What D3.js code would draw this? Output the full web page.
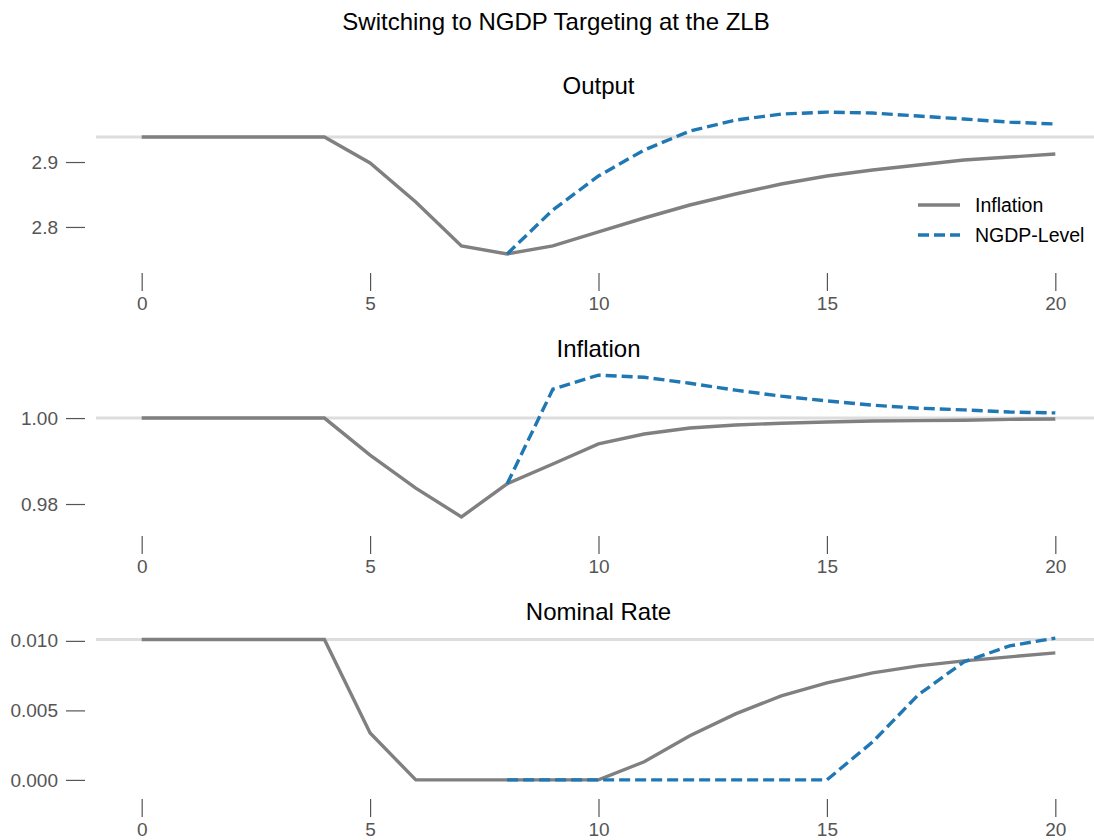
<!DOCTYPE html>
<html>
<head>
<meta charset="utf-8">
<script src="https://cdn.jsdelivr.net/npm/d3@7"></script>
<style>
  body { margin: 0; background: #fff; }
  text { font-family: "Liberation Sans", Arial, Helvetica, sans-serif; }
</style>
</head>
<body>
<div id="chart-area"></div>
<script>
// periods after the shock
var periods = [0, 1, 2, 3, 4, 5, 6, 7, 8, 9, 10, 11, 12, 13, 14, 15, 16, 17, 18, 19, 20]
var xTicks = [0, 5, 10, 15, 20]

// Output
var outputInflation = [2.9385, 2.9385, 2.9385, 2.9385, 2.9385, 2.8985, 2.8385, 2.7708, 2.7585, 2.7708,
  2.7923, 2.8138, 2.8338, 2.8508, 2.8662, 2.8785, 2.8877, 2.8954, 2.9031, 2.9077, 2.9123]
var outputNgdp = [null, null, null, null, null, null, null, null, 2.7585, 2.8262,
  2.8785, 2.9185, 2.9477, 2.9646, 2.9738, 2.9769, 2.9754, 2.9708, 2.9662, 2.9615, 2.9585]
var outputSteady = 2.9385
var outputTicks = [2.8, 2.9]

// Inflation
var inflInflation = [1.0, 1.0, 1.0, 1.0, 1.0, 0.9914, 0.9837, 0.9770, 0.9847, 0.9893,
  0.9940, 0.9963, 0.9977, 0.9984, 0.9988, 0.9991, 0.9993, 0.9994, 0.9995, 0.9997, 0.9998]
var inflNgdp = [null, null, null, null, null, null, null, null, 0.9847, 1.0067,
  1.0100, 1.0095, 1.0081, 1.0065, 1.0051, 1.0040, 1.0030, 1.0023, 1.0019, 1.0014, 1.0012]
var inflSteady = 1.0
var inflTicks = [0.98, 1.00]

// Nominal rate
var rateInflation = [0.0101, 0.0101, 0.0101, 0.0101, 0.0101, 0.00338, 0, 0, 0, 0,
  0, 0.0013, 0.00317, 0.00475, 0.00604, 0.00698, 0.0077, 0.0082, 0.00856, 0.00885, 0.00914]
var rateNgdp = [null, null, null, null, null, null, null, null, 0, 0,
  0, 0, 0, 0, 0, 0, 0.00273, 0.00612, 0.00849, 0.00964, 0.0102]
var rateSteady = 0.0101
var rateTicks = [0.000, 0.005, 0.010]

var seriesNames = ["Inflation", "NGDP-Level"]

var panels = [
  { title: "Output", a: outputInflation, b: outputNgdp, ss: outputSteady, ticks: outputTicks, fmt: ".1f", legend: true },
  { title: "Inflation", a: inflInflation, b: inflNgdp, ss: inflSteady, ticks: inflTicks, fmt: ".2f", legend: false },
  { title: "Nominal Rate", a: rateInflation, b: rateNgdp, ss: rateSteady, ticks: rateTicks, fmt: ".3f", legend: false }
]

var width = 1094
var height = 840
var margin = { left: 96, right: -7 }
var panelTop = [105, 368, 631]
var panelH = 156
var grey = "#808080"
var blue = "#1f77b4"

var svg = d3.select("#chart-area")
  .append("svg")
  .attr("width", width)
  .attr("height", height)

svg.append("text")
  .attr("x", 556)
  .attr("y", 30)
  .attr("text-anchor", "middle")
  .attr("font-size", "24px")
  .attr("fill", "#000")
  .text("Switching to NGDP Targeting at the ZLB")

var x = d3.scaleLinear()
  .domain([-1, 21])
  .range([margin.left, width - margin.right])

panels.forEach((p, i) => {
  var g = svg.append("g")
    .attr("transform", `translate(0, ${panelTop[i]})`)

  var all = p.a.concat(p.b.filter((d) => d !== null)).concat([p.ss])
  var ext = d3.extent(all)
  var pad = (ext[1] - ext[0]) * 0.05
  var y = d3.scaleLinear()
    .domain([ext[0] - pad, ext[1] + pad])
    .range([panelH, 0])

  g.append("text")
    .attr("x", (x(-1) + x(21)) / 2)
    .attr("y", -11)
    .attr("text-anchor", "middle")
    .attr("font-size", "24px")
    .attr("fill", "#000")
    .text(p.title)

  // steady-state reference line
  g.append("line")
    .attr("x1", margin.left)
    .attr("x2", width)
    .attr("y1", y(p.ss))
    .attr("y2", y(p.ss))
    .attr("stroke", "#dddddd")
    .attr("stroke-width", 3)

  var line = d3.line()
    .defined((d) => d !== null)
    .x((d, j) => x(periods[j]))
    .y((d) => y(d))

  g.append("path")
    .datum(p.a)
    .attr("d", line)
    .attr("fill", "none")
    .attr("stroke", grey)
    .attr("stroke-width", 3.4)

  g.append("path")
    .datum(p.b)
    .attr("d", line)
    .attr("fill", "none")
    .attr("stroke", blue)
    .attr("stroke-width", 3.4)
    .attr("stroke-dasharray", "11,5")

  var leftAxis = d3.axisLeft(y)
    .tickValues(p.ticks)
    .tickFormat(d3.format(p.fmt))
    .tickSize(19)
    .tickPadding(8)

  var yAxisGroup = g.append("g")
    .attr("transform", `translate(${margin.left - 11}, 0)`)
    .call(leftAxis)

  var bottomAxis = d3.axisBottom(x)
    .tickValues(xTicks)
    .tickSize(18)
    .tickPadding(6)

  var xAxisGroup = g.append("g")
    .attr("transform", `translate(0, ${panelH + 12})`)
    .call(bottomAxis)

  ;[yAxisGroup, xAxisGroup].forEach((ax) => {
    ax.select(".domain").remove()
    ax.selectAll(".tick line").attr("stroke", "#555").attr("stroke-width", 1.2)
    ax.selectAll(".tick text")
      .attr("fill", "#555")
      .attr("font-size", "19px")
      .style("font-family", '"Liberation Sans", Arial, sans-serif')
  })

  if (p.legend) {
    var lg = g.append("g").attr("transform", "translate(918, 100)")
    seriesNames.forEach((name, k) => {
      lg.append("line")
        .attr("x1", 0).attr("x2", 42)
        .attr("y1", k * 30).attr("y2", k * 30)
        .attr("stroke", k === 0 ? grey : blue)
        .attr("stroke-width", 3.4)
        .attr("stroke-dasharray", k === 0 ? null : "11,5")
      lg.append("text")
        .attr("x", 57)
        .attr("y", k * 30)
        .attr("dy", "0.35em")
        .attr("font-size", "19.5px")
        .attr("fill", "#000")
        .text(name)
    })
  }
})
</script>
</body>
</html>
